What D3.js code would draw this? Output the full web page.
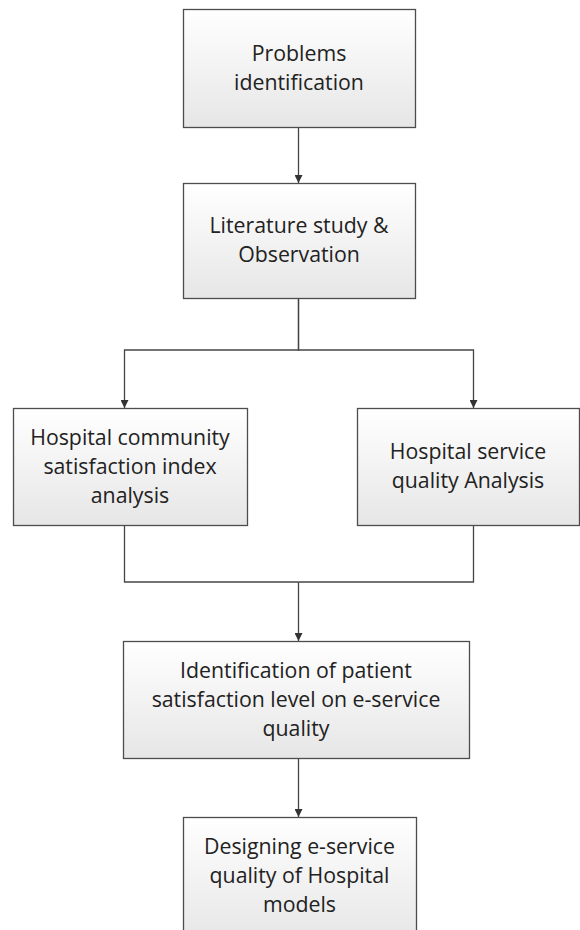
<!DOCTYPE html>
<html><head><meta charset="utf-8">
<script src="https://cdn.jsdelivr.net/npm/d3@7"></script>
<style>html,body{margin:0;padding:0;background:#fff;}svg{display:block;}</style>
</head><body>
<script>
// Flowchart content
const stepIds = ["problems","literature","community","service","identification","designing"];
const stepLabels = [
  ["Problems","identification"],
  ["Literature study &","Observation"],
  ["Hospital community","satisfaction index","analysis"],
  ["Hospital service","quality Analysis"],
  ["Identification of patient","satisfaction level on e-service","quality"],
  ["Designing e-service","quality of Hospital","models"]
];
const links = [
  ["problems","literature"],
  ["literature","community"],
  ["literature","service"],
  ["community","identification"],
  ["service","identification"],
  ["identification","designing"]
];

// Layout (pixel boxes: x0, y0, x1, y1) and connector columns
const layout = {
  problems:       [183, 9, 415, 127],
  literature:     [183, 183, 415, 298],
  community:      [13, 408, 247, 525],
  service:        [357, 408, 579, 525],
  identification: [123, 641, 469, 758],
  designing:      [183, 817, 416, 940]
};
const portX = {problems:298, literature:298, community:124, service:473, identification:298, designing:298};
const splitY = 350, mergeY = 582, mergeX = 298;

const W = 580, H = 930;
const svg = d3.select("body").append("svg").attr("width", W).attr("height", H);
const defs = svg.append("defs");
const grad = defs.append("linearGradient").attr("id","g").attr("x1",0).attr("y1",0).attr("x2",0).attr("y2",1);
grad.append("stop").attr("offset","0%").attr("stop-color","#ffffff");
grad.append("stop").attr("offset","100%").attr("stop-color","#e6e6e6");
defs.append("marker").attr("id","arr").attr("viewBox","0 0 10 10").attr("refX",10).attr("refY",5)
  .attr("markerWidth",8).attr("markerHeight",8).attr("markerUnits","userSpaceOnUse").attr("orient","auto")
  .append("path").attr("d","M0,0L10,5L0,10Z").attr("fill","#333");

const nodes = stepIds.map((id,i)=>({id, label: stepLabels[i], box: layout[id]}));
const byId = Object.fromEntries(nodes.map(n=>[n.id,n]));
const cx = b => (b[0]+b[2])/2;

// Connectors
const line = d3.line();
const paths = [];
links.forEach(([s,t])=>{
  const a = byId[s].box, b = byId[t].box;
  const xs = portX[s], xt = portX[t];
  if (s === "literature") {
    paths.push({pts:[[xs,a[3]],[xs,splitY],[xt,splitY],[xt,b[1]]], arrow:true});
  } else if (t === "identification") {
    paths.push({pts:[[xs,a[3]],[xs,mergeY],[mergeX,mergeY]], arrow:false});
  } else {
    paths.push({pts:[[xs,a[3]],[xt,b[1]]], arrow:true});
  }
});
paths.push({pts:[[mergeX,mergeY],[portX.identification,byId.identification.box[1]]], arrow:true});

svg.selectAll("path.link").data(paths).join("path")
  .attr("class","link")
  .attr("d", d=>line(d.pts.map(p=>[p[0]+0.5,p[1]])))
  .attr("fill","none").attr("stroke","#454545").attr("stroke-width",1.3)
  .attr("marker-end", d=> d.arrow ? "url(#arr)" : null);

// Boxes
const g = svg.selectAll("g.node").data(nodes).join("g").attr("class","node");
g.append("rect")
  .attr("x", d=>d.box[0]+0.5).attr("y", d=>d.box[1]+0.5)
  .attr("width", d=>d.box[2]-d.box[0]).attr("height", d=>d.box[3]-d.box[1])
  .attr("fill","url(#g)").attr("stroke","#4d4d4d").attr("stroke-width",1.3);

const lh = 29;
g.each(function(d){
  const n = d.label.length;
  const b = d.box;
  const h = d.id === "designing" ? 117 : (b[3]-b[1]);
  const cy = b[1] + h/2;
  const t = d3.select(this).append("text")
    .attr("text-anchor","middle")
    .attr("font-family","'Open Sans', sans-serif")
    .attr("font-size", 21.3).attr("fill","#222");
  d.label.forEach((s,i)=>{
    t.append("tspan").attr("x", cx(b)).attr("y", cy + (i-(n-1)/2)*lh + 7).text(s);
  });
});
</script>
</body></html>
